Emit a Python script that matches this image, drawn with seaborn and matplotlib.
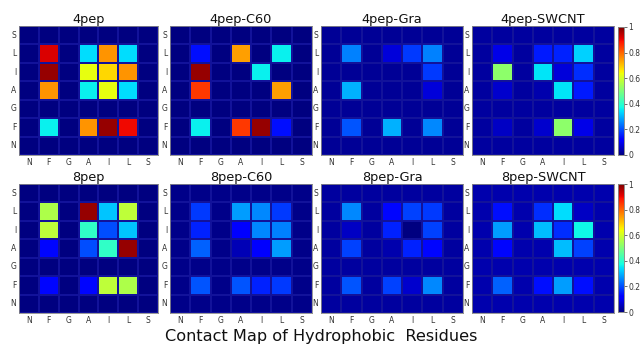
import numpy as np
import pandas as pd
import matplotlib
matplotlib.use("Agg")
import matplotlib.pyplot as plt
import seaborn as sns

residues_x = ["N", "F", "G", "A", "I", "L", "S"]
residues_y = ["S", "L", "I", "A", "G", "F", "N"]

titles = ["4pep", "4pep-C60", "4pep-Gra", "4pep-SWCNT",
          "8pep", "8pep-C60", "8pep-Gra", "8pep-SWCNT"]

# rows: S, L, I, A, G, F, N (top to bottom); cols: N, F, G, A, I, L, S
pep4 = [
    [0, 0, 0, 0, 0, 0, 0],
    [0, 0.92, 0, 0.34, 0.75, 0.34, 0],
    [0, 0.98, 0, 0.63, 0.68, 0.75, 0],
    [0, 0.75, 0, 0.36, 0.63, 0.34, 0],
    [0, 0, 0, 0, 0, 0, 0],
    [0, 0.36, 0, 0.75, 0.98, 0.90, 0],
    [0, 0, 0, 0, 0, 0, 0],
]
pep4_c60 = [
    [0, 0, 0, 0, 0, 0, 0],
    [0, 0.14, 0, 0.74, 0, 0.36, 0],
    [0, 0.98, 0, 0, 0.36, 0, 0],
    [0, 0.85, 0, 0, 0, 0.74, 0],
    [0, 0, 0, 0, 0, 0, 0],
    [0, 0.36, 0, 0.85, 0.98, 0.14, 0],
    [0, 0, 0, 0, 0, 0, 0],
]
pep4_gra = [
    [0.02, 0.02, 0.02, 0.02, 0.02, 0.02, 0.02],
    [0.02, 0.25, 0.02, 0.08, 0.18, 0.25, 0.02],
    [0.02, 0.02, 0.02, 0.02, 0.02, 0.18, 0.02],
    [0.02, 0.30, 0.02, 0.02, 0.02, 0.08, 0.02],
    [0.02, 0.02, 0.02, 0.02, 0.02, 0.02, 0.02],
    [0.02, 0.21, 0.02, 0.30, 0.02, 0.26, 0.02],
    [0.02, 0.02, 0.02, 0.02, 0.02, 0.02, 0.02],
]
pep4_swcnt = [
    [0.03, 0.03, 0.03, 0.03, 0.03, 0.03, 0.03],
    [0.03, 0.09, 0.03, 0.15, 0.16, 0.33, 0.03],
    [0.03, 0.52, 0.03, 0.35, 0.08, 0.17, 0.03],
    [0.03, 0.07, 0.03, 0.04, 0.35, 0.15, 0.03],
    [0.03, 0.03, 0.03, 0.03, 0.03, 0.03, 0.03],
    [0.03, 0.06, 0.03, 0.07, 0.52, 0.09, 0.03],
    [0.03, 0.03, 0.03, 0.03, 0.03, 0.03, 0.03],
]
pep8 = [
    [0, 0, 0, 0, 0, 0, 0],
    [0, 0.56, 0, 0.98, 0.32, 0.58, 0],
    [0, 0.58, 0, 0.41, 0.20, 0.32, 0],
    [0, 0.13, 0, 0.20, 0.41, 0.98, 0],
    [0, 0, 0, 0, 0, 0, 0],
    [0, 0.13, 0, 0.13, 0.58, 0.56, 0],
    [0, 0, 0, 0, 0, 0, 0],
]
pep8_c60 = [
    [0.01, 0.01, 0.01, 0.01, 0.01, 0.01, 0.01],
    [0.01, 0.18, 0.01, 0.28, 0.26, 0.18, 0.01],
    [0.01, 0.16, 0.01, 0.11, 0.26, 0.25, 0.01],
    [0.01, 0.22, 0.01, 0.05, 0.11, 0.28, 0.01],
    [0.01, 0.01, 0.01, 0.01, 0.01, 0.01, 0.01],
    [0.01, 0.21, 0.01, 0.21, 0.16, 0.18, 0.01],
    [0.01, 0.01, 0.01, 0.01, 0.01, 0.01, 0.01],
]
pep8_gra = [
    [0.03, 0.03, 0.03, 0.03, 0.03, 0.03, 0.03],
    [0.03, 0.26, 0.03, 0.13, 0.19, 0.18, 0.03],
    [0.03, 0.06, 0.03, 0.16, 0.0, 0.19, 0.03],
    [0.03, 0.19, 0.03, 0.04, 0.16, 0.13, 0.03],
    [0.03, 0.03, 0.03, 0.03, 0.03, 0.03, 0.03],
    [0.03, 0.21, 0.03, 0.19, 0.07, 0.26, 0.03],
    [0.03, 0.03, 0.03, 0.03, 0.03, 0.03, 0.03],
]
pep8_swcnt = [
    [0.04, 0.04, 0.04, 0.04, 0.04, 0.04, 0.04],
    [0.04, 0.14, 0.04, 0.17, 0.34, 0.06, 0.04],
    [0.04, 0.28, 0.04, 0.31, 0.17, 0.37, 0.04],
    [0.04, 0.13, 0.04, 0.04, 0.31, 0.19, 0.04],
    [0.04, 0.04, 0.04, 0.04, 0.04, 0.04, 0.04],
    [0.04, 0.22, 0.04, 0.14, 0.28, 0.14, 0.04],
    [0.04, 0.04, 0.04, 0.04, 0.04, 0.04, 0.04],
]
panels = [pep4, pep4_c60, pep4_gra, pep4_swcnt, pep8, pep8_c60, pep8_gra, pep8_swcnt]
cbar_ticks = [0, 0.2, 0.4, 0.6, 0.8, 1]
cbar_labels = ["0", "0.2", "0.4", "0.6", "0.8", "1"]

W, H = 641, 346
fig = plt.figure(figsize=(W / 100, H / 100), dpi=100)
fig.patch.set_facecolor("white")

def ax_px(x0, y0, x1, y1):
    return fig.add_axes([x0 / W, 1 - y1 / H, (x1 - x0) / W, (y1 - y0) / H])

col_x = [(19, 158), (170, 312), (321, 463), (472, 614)]
row_y = [(26, 155), (184, 313)]
cbar_pos = [(618, 27, 624, 155), (618, 184, 624, 312)]

for i, (title, data) in enumerate(zip(titles, panels)):
    r, c = divmod(i, 4)
    ax = ax_px(col_x[c][0], row_y[r][0], col_x[c][1], row_y[r][1])
    df = pd.DataFrame(data, index=residues_y, columns=residues_x)
    show_cbar = (c == 3)
    cax = ax_px(*cbar_pos[r]) if show_cbar else None
    sns.heatmap(df, ax=ax, cmap="jet", vmin=0, vmax=1, linewidths=0.3,
                linecolor="#12129a", cbar=show_cbar, cbar_ax=cax, square=False)
    ax.set_title(title, fontsize=9.3, pad=2.5, color="#111111")
    ax.tick_params(axis="both", length=0, labelsize=5.5, colors="#333333", pad=2)
    ax.set_yticklabels(residues_y, rotation=0)
    ax.set_xticklabels(residues_x, rotation=0)
    ax.set_xlabel("")
    ax.set_ylabel("")
    for s in ax.spines.values():
        s.set_visible(True)
        s.set_color("#888888")
        s.set_linewidth(0.6)
    if show_cbar:
        cax.set_yticks(cbar_ticks)
        cax.set_yticklabels(cbar_labels)
        cax.tick_params(labelsize=5.5, length=2, width=0.5, colors="#333333", pad=1)
        for s in cax.spines.values():
            s.set_visible(True)
            s.set_color("#888888")
            s.set_linewidth(0.5)

fig.text(321 / W, 1 - 337 / H, "Contact Map of Hydrophobic  Residues",
         ha="center", va="center", fontsize=11.6, color="#111111")

fig.savefig("out.png", dpi=100)
